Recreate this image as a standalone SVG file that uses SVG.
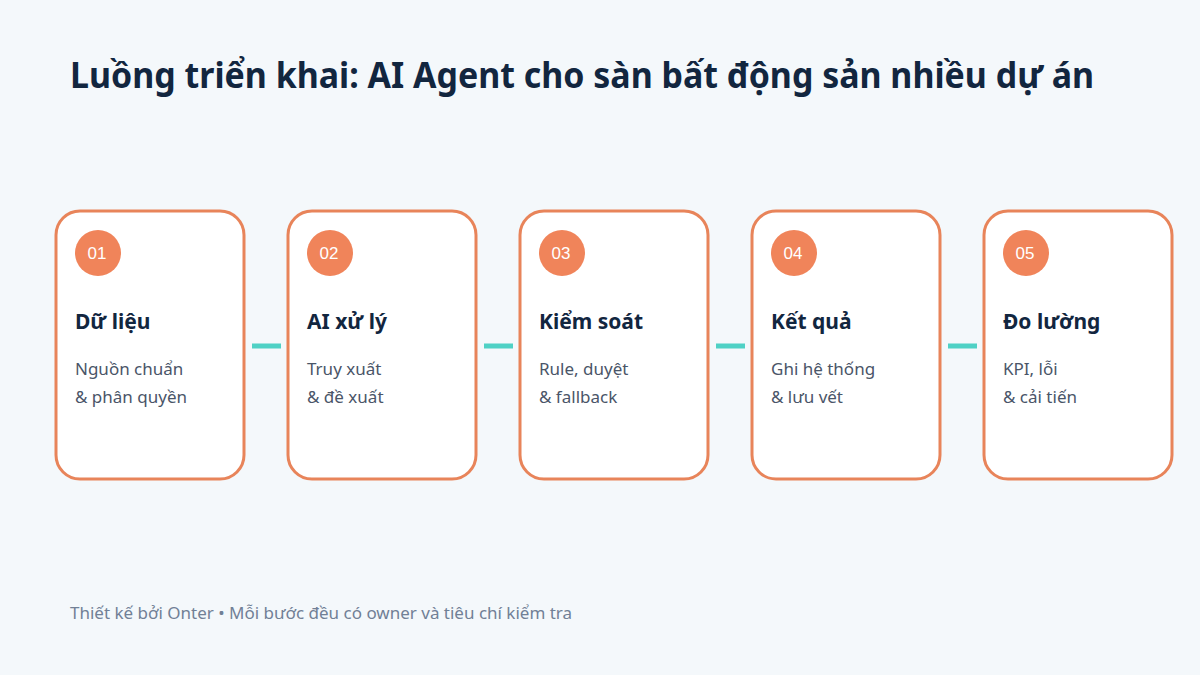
<svg xmlns="http://www.w3.org/2000/svg" width="1200" height="675" viewBox="0 0 1200 675">
<style>
.bg{fill:#F4F8FB}
.card{fill:#FFFFFF;stroke:#E8845A;stroke-width:3}
.badge{fill:#F0845A}
.num{font-family:"Liberation Sans",Arial,sans-serif;font-size:17px;fill:#FFFFFF}
.h{font-family:"Noto Sans","Open Sans",sans-serif;font-weight:700;font-size:21px;fill:#12263F}
.s{font-family:"Noto Sans","Open Sans",sans-serif;font-size:17px;fill:#4A5568}
.title{font-family:"Noto Sans","Open Sans",sans-serif;font-weight:700;font-size:35px;fill:#12263F}
.foot{font-family:"Noto Sans","Open Sans",sans-serif;font-size:17px;fill:#718096}
.conn{stroke:#4FD1C5;stroke-width:5}
</style>
<rect class="bg" x="0" y="0" width="1200" height="675"/>
<text class="title" x="70" y="88" textLength="1024" lengthAdjust="spacingAndGlyphs">Luồng triển khai: AI Agent cho sàn bất động sản nhiều dự án</text>
<g id="connectors">
<line class="conn" x1="252" y1="346" x2="281" y2="346"/>
<line class="conn" x1="484" y1="346" x2="513" y2="346"/>
<line class="conn" x1="716" y1="346" x2="745" y2="346"/>
<line class="conn" x1="948" y1="346" x2="977" y2="346"/>
</g>
<g id="step1">
<rect class="card" x="56" y="211" width="188" height="268" rx="24"/>
<circle class="badge" cx="98" cy="253" r="23"/>
<text class="num" x="97" y="259" text-anchor="middle">01</text>
<text class="h" x="75" y="329">Dữ liệu</text>
<text class="s" x="75" y="375">Nguồn chuẩn</text>
<text class="s" x="75" y="403">&amp; phân quyền</text>
</g>
<g id="step2">
<rect class="card" x="288" y="211" width="188" height="268" rx="24"/>
<circle class="badge" cx="330" cy="253" r="23"/>
<text class="num" x="329" y="259" text-anchor="middle">02</text>
<text class="h" x="307" y="329">AI xử lý</text>
<text class="s" x="307" y="375">Truy xuất</text>
<text class="s" x="307" y="403">&amp; đề xuất</text>
</g>
<g id="step3">
<rect class="card" x="520" y="211" width="188" height="268" rx="24"/>
<circle class="badge" cx="562" cy="253" r="23"/>
<text class="num" x="561" y="259" text-anchor="middle">03</text>
<text class="h" x="539" y="329">Kiểm soát</text>
<text class="s" x="539" y="375">Rule, duyệt</text>
<text class="s" x="539" y="403">&amp; fallback</text>
</g>
<g id="step4">
<rect class="card" x="752" y="211" width="188" height="268" rx="24"/>
<circle class="badge" cx="794" cy="253" r="23"/>
<text class="num" x="793" y="259" text-anchor="middle">04</text>
<text class="h" x="771" y="329">Kết quả</text>
<text class="s" x="771" y="375">Ghi hệ thống</text>
<text class="s" x="771" y="403">&amp; lưu vết</text>
</g>
<g id="step5">
<rect class="card" x="984" y="211" width="188" height="268" rx="24"/>
<circle class="badge" cx="1026" cy="253" r="23"/>
<text class="num" x="1025" y="259" text-anchor="middle">05</text>
<text class="h" x="1003" y="329">Đo lường</text>
<text class="s" x="1003" y="375">KPI, lỗi</text>
<text class="s" x="1003" y="403">&amp; cải tiến</text>
</g>
<text class="foot" x="70" y="619">Thiết kế bởi Onter • Mỗi bước đều có owner và tiêu chí kiểm tra</text>
</svg>
